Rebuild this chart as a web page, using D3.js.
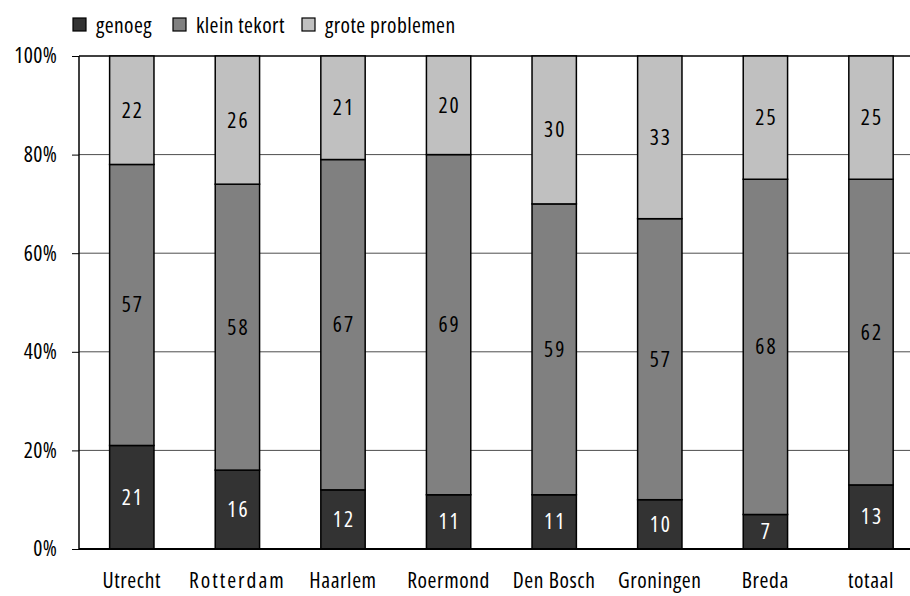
<!DOCTYPE html>
<head>
    <meta charset="utf-8">
    <style>
        body{ margin:0; background:white; }
        text{ font-family:"Open Sans",sans-serif; font-stretch:75%; }
    </style>
</head>
<body>
<script src="https://d3js.org/d3.v7.min.js"></script>
<script>

const width = 910;
const height = 596;

const cities = ['Utrecht', 'Rotterdam', 'Haarlem', 'Roermond', 'Den Bosch', 'Groningen', 'Breda', 'totaal'];
const genoeg = [21, 16, 12, 11, 11, 10, 7, 13];
const kleinTekort = [57, 58, 67, 69, 59, 57, 68, 62];
const groteProblemen = [22, 26, 21, 20, 30, 33, 25, 25];
const seriesNames = ['genoeg', 'klein tekort', 'grote problemen'];
const yTicks = [0, 20, 40, 60, 80, 100];

const colors = ['#333333', '#808080', '#c0c0c0'];
const labelColors = ['#fff', '#000', '#000'];

const plotLeft = 79, plotTop = 56, plotBottom = 549;
const fontSize = '21.5px';

const svg = d3.select('body').append('svg')
    .attr('width', width)
    .attr('height', height);

const x = d3.scaleBand()
    .domain(cities)
    .range([plotLeft, plotLeft + 8 * 105.6])
    .paddingInner(0.58)
    .paddingOuter(0.29);

const y = d3.scaleLinear()
    .domain([0, 100])
    .range([plotBottom, plotTop]);

// gridlines
svg.append('g')
    .selectAll('line')
    .data(yTicks.filter(d => d > 0))
    .join('line')
        .attr('x1', plotLeft)
        .attr('x2', width)
        .attr('y1', d => y(d))
        .attr('y2', d => y(d))
        .attr('stroke', '#000')
        .attr('stroke-width', d => d === 100 ? 1.5 : 0.7);

// y axis
const yAxis = svg.append('g')
    .attr('transform', `translate(${plotLeft},0)`)
    .call(d3.axisLeft(y).tickValues(yTicks).tickFormat(d => d + '%').tickSize(7).tickPadding(15));
yAxis.attr('font-family', null).attr('font-size', null);
yAxis.select('.domain').attr('stroke-width', 1.5).attr('d', `M0,${plotBottom}V${plotTop}`);
yAxis.selectAll('text').attr('fill', '#000').style('font-size', fontSize).style('letter-spacing', '0.3px');

// stacked data
const rows = cities.map((c, i) => ({ city: c, genoeg: genoeg[i], 'klein tekort': kleinTekort[i], 'grote problemen': groteProblemen[i] }));
const stack = d3.stack().keys(seriesNames)(rows);

stack.forEach((layer, li) => {
    const g = svg.append('g');
    g.selectAll('rect')
        .data(layer)
        .join('rect')
            .attr('x', d => x(d.data.city))
            .attr('width', x.bandwidth())
            .attr('y', d => y(d[1]))
            .attr('height', d => y(d[0]) - y(d[1]))
            .attr('fill', colors[li])
            .attr('stroke', '#000')
            .attr('stroke-width', 1.5);
    g.selectAll('text')
        .data(layer)
        .join('text')
            .attr('x', d => x(d.data.city) + x.bandwidth() / 2 + 1)
            .attr('y', d => (y(d[0]) + y(d[1])) / 2)
            .attr('dy', '0.35em')
            .attr('text-anchor', 'middle')
            .attr('fill', labelColors[li])
            .style('font-size', fontSize)
            .style('letter-spacing', '2px')
            .text(d => d[1] - d[0]);
});

// x axis line
svg.append('line')
    .attr('x1', plotLeft).attr('x2', width)
    .attr('y1', plotBottom).attr('y2', plotBottom)
    .attr('stroke', '#000').attr('stroke-width', 2);

// category labels
svg.append('g').selectAll('text')
    .data(cities)
    .join('text')
        .attr('x', d => x(d) + x.bandwidth() / 2)
        .attr('y', 588)
        .attr('text-anchor', 'middle')
        .style('font-size', fontSize)
        .style('letter-spacing', d => d === 'Rotterdam' ? '2px' : '0.6px')
        .text(d => d);

// legend
const legendX = [73, 173, 302];
const legend = svg.append('g').selectAll('g')
    .data(seriesNames)
    .join('g')
        .attr('transform', (d, i) => `translate(${legendX[i]},18)`);
legend.append('rect')
    .attr('width', 13).attr('height', 13)
    .attr('fill', (d, i) => colors[i])
    .attr('stroke', '#000').attr('stroke-width', 1.2);
legend.append('text')
    .attr('x', 23)
    .attr('y', 15)
    .style('font-size', fontSize)
    .style('letter-spacing', '0.4px')
    .text(d => d);

</script>
</body>
</html>
